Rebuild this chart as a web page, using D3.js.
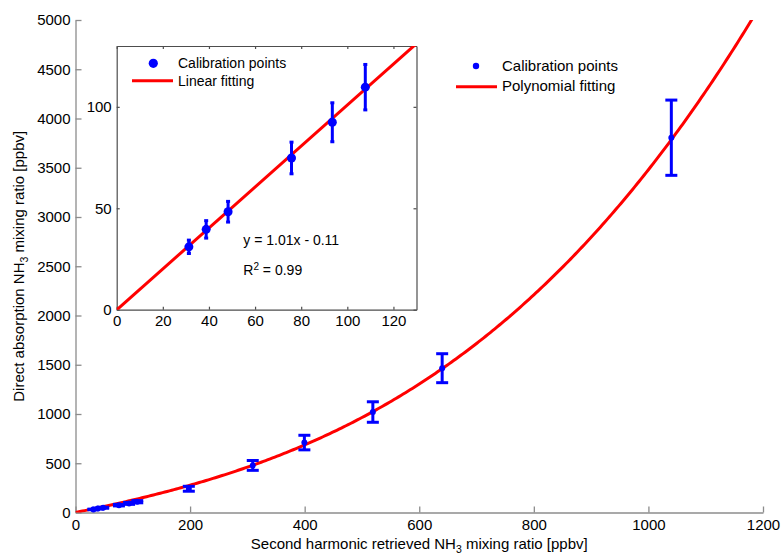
<!DOCTYPE html>
<html>
<head>
<meta charset="utf-8">
<script src="https://cdn.jsdelivr.net/npm/d3@7"></script>
<style>
  html, body { margin: 0; padding: 0; background: #fff; }
  svg { display: block; font-family: "Liberation Sans", Arial, sans-serif; }
</style>
</head>
<body>
<svg id="chart" width="781" height="555"></svg>
<script>
// Calibration points: second-harmonic retrieval (x) vs direct absorption (y), ppbv
const calibX   = [31.3, 38.8, 48.3, 75.8, 93.5, 107.8, 197.8, 309.4, 399.5, 519, 640, 1040];
const calibY   = [31.0, 39.6, 48.3, 74.8, 92.4, 109.7, 241, 478, 710, 1020, 1465, 3805];
const calibErr = [3.3, 4.3, 5.1, 7.8, 9.6, 11.2, 25, 50, 74, 104, 147, 382];

// Points shown in the zoomed inset (the low-concentration subset)
const insetCount = 6;

// Polynomial fit y = c0 + c1 x + c2 x^2 + c3 x^3
const polyCoef = [0, 1.1871, 6.72e-4, 1.621e-6];
// Linear fit of the low range: y = slope * x + intercept
const linSlope = 1.01;
const linIntercept = -0.11;

// Tick labels
const mainXTicks = [0, 200, 400, 600, 800, 1000, 1200];
const mainYTicks = [0, 500, 1000, 1500, 2000, 2500, 3000, 3500, 4000, 4500, 5000];
const insetXTicks = [0, 20, 40, 60, 80, 100, 120];
const insetYTicks = [0, 50, 100];

const BLUE = "#0000ff", RED = "#ff0000";
const fmt = d3.format("d");
const svg = d3.select("#chart");

// ---------- main axes ----------
const x = d3.scaleLinear().domain([0, 1200]).range([75.5, 763]);
const y = d3.scaleLinear().domain([0, 5000]).range([512.5, 20]);

const defs = svg.append("defs");
defs.append("clipPath").attr("id", "clipMain").append("rect")
  .attr("x", x(0)).attr("y", y(5000)).attr("width", x(1200) - x(0)).attr("height", y(0) - y(5000));

const gx = svg.append("g").attr("transform", `translate(0,${y(0)})`)
  .call(d3.axisBottom(x).tickValues(mainXTicks).tickFormat(fmt).tickSize(-6).tickPadding(6).tickSizeOuter(0));
const gy = svg.append("g").attr("transform", `translate(${x(0)},0)`)
  .call(d3.axisLeft(y).tickValues(mainYTicks).tickFormat(fmt).tickSize(-6).tickPadding(5).tickSizeOuter(0));
[gx, gy].forEach(g => {
  g.select(".domain").attr("stroke", "#8c8c8c").attr("stroke-width", 1.3);
  g.selectAll(".tick line").attr("stroke", "#8c8c8c").attr("stroke-width", 1.3);
  g.selectAll(".tick text").attr("fill", "#000").attr("font-size", 15)
    .attr("font-family", "Liberation Sans, Arial, sans-serif");
});
gx.selectAll(".tick text").attr("dy", "0.75em");

// Axis titles with subscript
const xTitle = svg.append("text").attr("x", (x(0) + x(1200)) / 2).attr("y", 549)
  .attr("text-anchor", "middle").attr("font-size", 15).attr("fill", "#000");
xTitle.append("tspan").text("Second harmonic retrieved NH");
xTitle.append("tspan").text("3").attr("font-size", 10.5).attr("dy", 4);
xTitle.append("tspan").text(" mixing ratio [ppbv]").attr("dy", -4);

const yTitle = svg.append("text")
  .attr("transform", `translate(24,${(y(0) + y(5000)) / 2}) rotate(-90)`)
  .attr("text-anchor", "middle").attr("font-size", 15).attr("fill", "#000");
yTitle.append("tspan").text("Direct absorption NH");
yTitle.append("tspan").text("3").attr("font-size", 10.5).attr("dy", 4);
yTitle.append("tspan").text(" mixing ratio [ppbv]").attr("dy", -4);

// Polynomial fitting curve
const polyVal = v => polyCoef.reduce((s, c, i) => s + c * Math.pow(v, i), 0);
const curveXs = d3.range(0, 1200.01, 4);
svg.append("path")
  .datum(curveXs)
  .attr("clip-path", "url(#clipMain)")
  .attr("fill", "none").attr("stroke", RED).attr("stroke-width", 3)
  .attr("d", d3.line().x(d => x(d)).y(d => y(polyVal(d))));

// Error bars + markers (main)
const idx = d3.range(calibX.length);
const eb = svg.append("g").attr("stroke", BLUE).attr("stroke-width", 3);
idx.forEach(i => {
  const cx = x(calibX[i]);
  const y1 = y(calibY[i] + calibErr[i]), y2 = y(calibY[i] - calibErr[i]);
  eb.append("line").attr("x1", cx).attr("x2", cx).attr("y1", y1).attr("y2", y2);
  eb.append("line").attr("x1", cx - 6).attr("x2", cx + 6).attr("y1", y1).attr("y2", y1);
  eb.append("line").attr("x1", cx - 6).attr("x2", cx + 6).attr("y1", y2).attr("y2", y2);
});
svg.append("g").selectAll("circle").data(idx).join("circle")
  .attr("cx", i => x(calibX[i])).attr("cy", i => y(calibY[i])).attr("r", 3).attr("fill", BLUE);

// Main legend
svg.append("circle").attr("cx", 476).attr("cy", 66).attr("r", 3.2).attr("fill", BLUE);
svg.append("text").attr("x", 502).attr("y", 71).attr("font-size", 15).text("Calibration points");
svg.append("line").attr("x1", 456).attr("x2", 497).attr("y1", 86.7).attr("y2", 86.7)
  .attr("stroke", RED).attr("stroke-width", 3);
svg.append("text").attr("x", 502).attr("y", 91).attr("font-size", 15).text("Polynomial fitting");

// ---------- inset ----------
const ix = d3.scaleLinear().domain([0, 130]).range([116.7, 416.5]);
const iy = d3.scaleLinear().domain([0, 130]).range([309.7, 46]);
const inset = svg.append("g");
inset.append("rect").attr("x", ix(0)).attr("y", iy(130))
  .attr("width", ix(130) - ix(0)).attr("height", iy(0) - iy(130)).attr("fill", "#fff");
defs.append("clipPath").attr("id", "clipInset").append("rect")
  .attr("x", ix(0)).attr("y", iy(130)).attr("width", ix(130) - ix(0)).attr("height", iy(0) - iy(130));

const axStyle = g => {
  g.select(".domain").attr("stroke", "#4d4d4d").attr("stroke-width", 1.2);
  g.selectAll(".tick line").attr("stroke", "#4d4d4d").attr("stroke-width", 1.2);
  g.selectAll(".tick text").attr("fill", "#000").attr("font-size", 15)
    .attr("font-family", "Liberation Sans, Arial, sans-serif");
};
const igx = inset.append("g").attr("transform", `translate(0,${iy(0)})`)
  .call(d3.axisBottom(ix).tickValues(insetXTicks).tickFormat(fmt).tickSize(-3).tickPadding(5).tickSizeOuter(0));
igx.selectAll(".tick text").attr("dy", "0.75em");
const igy = inset.append("g").attr("transform", `translate(${ix(0)},0)`)
  .call(d3.axisLeft(iy).tickValues(insetYTicks).tickFormat(fmt).tickSize(-3).tickPadding(5).tickSizeOuter(0));
const igt = inset.append("g").attr("transform", `translate(0,${iy(130)})`)
  .call(d3.axisTop(ix).tickValues(insetXTicks).tickSize(-3).tickFormat("").tickSizeOuter(0));
const igr = inset.append("g").attr("transform", `translate(${ix(130)},0)`)
  .call(d3.axisRight(iy).tickValues(insetYTicks).tickSize(-3).tickFormat("").tickSizeOuter(0));
[igx, igy, igt, igr].forEach(axStyle);

// Linear fitting line
inset.append("line").attr("clip-path", "url(#clipInset)")
  .attr("x1", ix(0)).attr("y1", iy(linSlope * 0 + linIntercept))
  .attr("x2", ix(130)).attr("y2", iy(linSlope * 130 + linIntercept))
  .attr("stroke", RED).attr("stroke-width", 3);

// Inset error bars + markers
const iidx = d3.range(insetCount);
const ieb = inset.append("g").attr("stroke", BLUE).attr("stroke-width", 3);
iidx.forEach(i => {
  const cx = ix(calibX[i]);
  const y1 = iy(calibY[i] + calibErr[i]), y2 = iy(calibY[i] - calibErr[i]);
  ieb.append("line").attr("x1", cx).attr("x2", cx).attr("y1", y1).attr("y2", y2);
  ieb.append("line").attr("x1", cx - 2).attr("x2", cx + 2).attr("y1", y1).attr("y2", y1);
  ieb.append("line").attr("x1", cx - 2).attr("x2", cx + 2).attr("y1", y2).attr("y2", y2);
});
inset.append("g").selectAll("circle").data(iidx).join("circle")
  .attr("cx", i => ix(calibX[i])).attr("cy", i => iy(calibY[i])).attr("r", 4.5).attr("fill", BLUE);

// Inset legend
inset.append("circle").attr("cx", 153.3).attr("cy", 63.3).attr("r", 4.6).attr("fill", BLUE);
inset.append("text").attr("x", 178).attr("y", 68).attr("font-size", 14).text("Calibration points");
inset.append("line").attr("x1", 132).attr("x2", 173).attr("y1", 80.7).attr("y2", 80.7)
  .attr("stroke", RED).attr("stroke-width", 3);
inset.append("text").attr("x", 178).attr("y", 85.5).attr("font-size", 14).text("Linear fitting");

// Fit annotations
inset.append("text").attr("x", 243.3).attr("y", 244.5).attr("font-size", 14)
  .text(`y = ${linSlope.toFixed(2)}x - ${Math.abs(linIntercept).toFixed(2)}`);
const r2 = inset.append("text").attr("x", 243.3).attr("y", 275).attr("font-size", 14);
r2.append("tspan").text("R");
r2.append("tspan").text("2").attr("font-size", 10).attr("dy", -5);
r2.append("tspan").text(" = 0.99").attr("dy", 5);
</script>
</body>
</html>
